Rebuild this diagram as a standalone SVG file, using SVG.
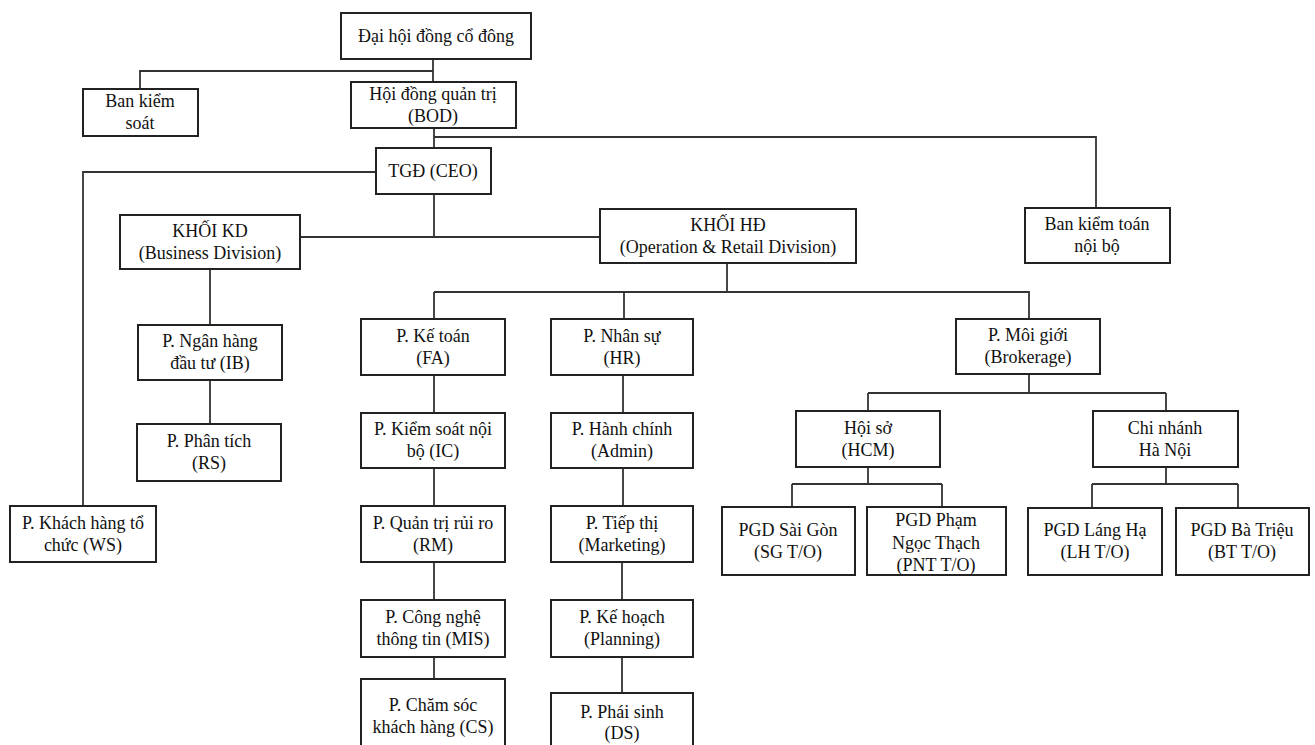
<svg xmlns="http://www.w3.org/2000/svg" width="1315" height="745" viewBox="0 0 1315 745">
<style>
.b{fill:#fff;stroke:#222;stroke-width:2}
.t{font-family:"Liberation Serif","Times New Roman",serif;font-size:18px;fill:#111;text-anchor:middle}
.c{fill:none;stroke:#333;stroke-width:1.8}
</style>
<rect width="1315" height="745" fill="#fff"/>
<g id="connectors" class="c">
<path d="M433 59V82"/>
<path d="M140 89V71H433"/>
<path d="M434 128V148"/>
<path d="M434 137H1096V208"/>
<path d="M376 172H83V506"/>
<path d="M434 194V237"/>
<path d="M300 237H600"/>
<path d="M210 269V325"/>
<path d="M210 380V424"/>
<path d="M727 263V292"/>
<path d="M434 292H1029V319"/>
<path d="M434 292V319"/>
<path d="M624 292V319"/>
<path d="M434 375V413M434 468V506M434 562V600M434 657V679"/>
<path d="M623 375V413M623 468V506M622 562V600M622 657V693"/>
<path d="M1029 374V393M868 393H1166M868 393V411M1166 393V411"/>
<path d="M868 467V484M792 484H942M792 484V507M942 484V507"/>
<path d="M1166 467V484M1092 484H1238M1092 484V508M1238 484V508"/>
</g>
<g id="n1"><rect class="b" x="341" y="13" width="190" height="46"/><text class="t" x="436" y="42">Đại hội đồng cổ đông</text></g>
<g id="n2"><rect class="b" x="83" y="89" width="115" height="47"/><text class="t" x="140" y="107">Ban kiểm</text><text class="t" x="140" y="129">soát</text></g>
<g id="n3"><rect class="b" x="351" y="82" width="165" height="46"/><text class="t" x="433" y="100">Hội đồng quản trị</text><text class="t" x="433" y="122">(BOD)</text></g>
<g id="n4"><rect class="b" x="376" y="148" width="115" height="46"/><text class="t" x="433" y="177">TGĐ (CEO)</text></g>
<g id="n5"><rect class="b" x="120" y="215" width="180" height="54"/><text class="t" x="210" y="237">KHỐI KD</text><text class="t" x="210" y="259">(Business Division)</text></g>
<g id="n6"><rect class="b" x="600" y="209" width="256" height="54"/><text class="t" x="728" y="231">KHỐI HĐ</text><text class="t" x="728" y="253">(Operation &amp; Retail Division)</text></g>
<g id="n7"><rect class="b" x="1025" y="208" width="145" height="55"/><text class="t" x="1097" y="230">Ban kiểm toán</text><text class="t" x="1097" y="252">nội bộ</text></g>
<g id="n8"><rect class="b" x="138" y="325" width="144" height="55"/><text class="t" x="210" y="347">P. Ngân hàng</text><text class="t" x="210" y="369">đầu tư (IB)</text></g>
<g id="n9"><rect class="b" x="137" y="424" width="144" height="57"/><text class="t" x="209" y="447">P. Phân tích</text><text class="t" x="209" y="469">(RS)</text></g>
<g id="n10"><rect class="b" x="10" y="506" width="146" height="56"/><text class="t" x="83" y="529">P. Khách hàng tổ</text><text class="t" x="83" y="551">chức (WS)</text></g>
<g id="n11"><rect class="b" x="361" y="319" width="144" height="56"/><text class="t" x="433" y="342">P. Kế toán</text><text class="t" x="433" y="364">(FA)</text></g>
<g id="n12"><rect class="b" x="361" y="413" width="144" height="55"/><text class="t" x="433" y="435">P. Kiểm soát nội</text><text class="t" x="433" y="457">bộ (IC)</text></g>
<g id="n13"><rect class="b" x="361" y="506" width="144" height="56"/><text class="t" x="433" y="529">P. Quản trị rủi ro</text><text class="t" x="433" y="551">(RM)</text></g>
<g id="n14"><rect class="b" x="361" y="600" width="144" height="57"/><text class="t" x="433" y="623">P. Công nghệ</text><text class="t" x="433" y="645">thông tin (MIS)</text></g>
<g id="n15"><rect class="b" x="361" y="679" width="144" height="70"/><text class="t" x="433" y="711">P. Chăm sóc</text><text class="t" x="433" y="733">khách hàng (CS)</text></g>
<g id="n16"><rect class="b" x="551" y="319" width="142" height="56"/><text class="t" x="622" y="342">P. Nhân sự</text><text class="t" x="622" y="364">(HR)</text></g>
<g id="n17"><rect class="b" x="551" y="413" width="142" height="55"/><text class="t" x="622" y="435">P. Hành chính</text><text class="t" x="622" y="457">(Admin)</text></g>
<g id="n18"><rect class="b" x="551" y="506" width="142" height="56"/><text class="t" x="622" y="529">P. Tiếp thị</text><text class="t" x="622" y="551">(Marketing)</text></g>
<g id="n19"><rect class="b" x="551" y="600" width="142" height="57"/><text class="t" x="622" y="623">P. Kế hoạch</text><text class="t" x="622" y="645">(Planning)</text></g>
<g id="n20"><rect class="b" x="551" y="693" width="142" height="56"/><text class="t" x="622" y="718">P. Phái sinh</text><text class="t" x="622" y="739">(DS)</text></g>
<g id="n21"><rect class="b" x="956" y="319" width="144" height="55"/><text class="t" x="1028" y="341">P. Môi giới</text><text class="t" x="1028" y="363">(Brokerage)</text></g>
<g id="n22"><rect class="b" x="796" y="411" width="144" height="56"/><text class="t" x="868" y="434">Hội sở</text><text class="t" x="868" y="456">(HCM)</text></g>
<g id="n23"><rect class="b" x="1093" y="411" width="145" height="56"/><text class="t" x="1165" y="434">Chi nhánh</text><text class="t" x="1165" y="456">Hà Nội</text></g>
<g id="n24"><rect class="b" x="722" y="507" width="133" height="68"/><text class="t" x="788" y="536">PGD Sài Gòn</text><text class="t" x="788" y="558">(SG T/O)</text></g>
<g id="n25"><rect class="b" x="867" y="507" width="139" height="68"/><text class="t" x="936" y="526">PGD Phạm</text><text class="t" x="936" y="549">Ngọc Thạch</text><text class="t" x="936" y="571">(PNT T/O)</text></g>
<g id="n26"><rect class="b" x="1028" y="508" width="134" height="67"/><text class="t" x="1095" y="536">PGD Láng Hạ</text><text class="t" x="1095" y="558">(LH T/O)</text></g>
<g id="n27"><rect class="b" x="1176" y="508" width="133" height="67"/><text class="t" x="1242" y="536">PGD Bà Triệu</text><text class="t" x="1242" y="558">(BT T/O)</text></g>
</svg>
